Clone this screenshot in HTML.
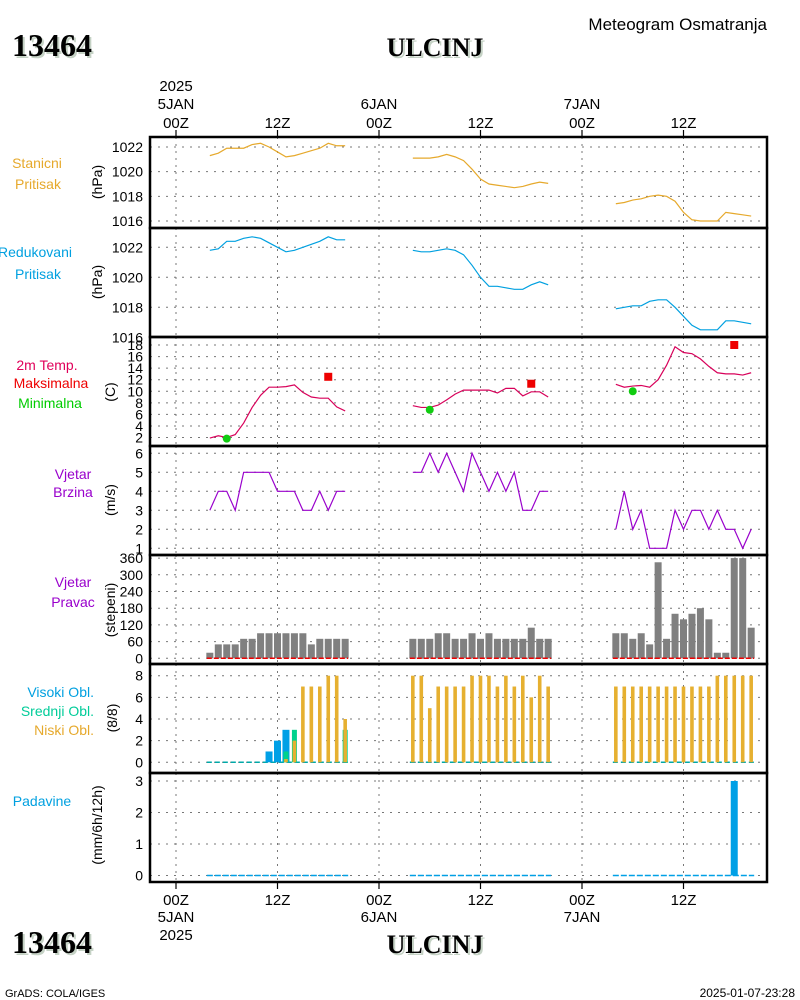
<!DOCTYPE html>
<html><head><meta charset="utf-8"><style>
body{margin:0;background:#fff;}
svg{display:block;font-family:"Liberation Sans",sans-serif;}
</style></head><body>
<svg id="chart" width="800" height="1000" viewBox="0 0 800 1000" xmlns="http://www.w3.org/2000/svg">
<g font-family="Liberation Serif" font-weight="bold">
<text x="14" y="58" fill="#c5d2c5" font-size="32">13464</text>
<text x="12" y="56" fill="#000" font-size="32">13464</text>
<text x="437" y="58" fill="#c5d2c5" font-size="26" text-anchor="middle">ULCINJ</text>
<text x="435" y="56" fill="#000" font-size="26" text-anchor="middle">ULCINJ</text>
<text x="14" y="955" fill="#c5d2c5" font-size="32">13464</text>
<text x="12" y="953" fill="#000" font-size="32">13464</text>
<text x="437" y="955" fill="#c5d2c5" font-size="26" text-anchor="middle">ULCINJ</text>
<text x="435" y="953" fill="#000" font-size="26" text-anchor="middle">ULCINJ</text>
</g>
<text x="767" y="30" font-size="17" text-anchor="end">Meteogram Osmatranja</text>
<text x="5" y="997" font-size="11">GrADS: COLA/IGES</text>
<text x="795" y="997" font-size="12" text-anchor="end">2025-01-07-23:28</text>
<g id="plots"></g>
</svg>
<script>
const hours = [4,5,6,7,8,9,10,11,12,13,14,15,16,17,18,19,20,
28,29,30,31,32,33,34,35,36,37,38,39,40,41,42,43,44,
52,53,54,55,56,57,58,59,60,61,62,63,64,65,66,67,68];
const stnPressure = [1021.3,1021.5,1021.9,1021.9,1021.9,1022.2,1022.3,1022.0,1021.6,1021.2,1021.3,1021.5,1021.7,1021.9,1022.3,1022.1,1022.1,
1021.1,1021.1,1021.1,1021.2,1021.4,1021.2,1020.9,1020.2,1019.4,1019.0,1018.9,1018.8,1018.7,1018.8,1019.0,1019.15,1019.05,
1017.4,1017.5,1017.7,1017.8,1018.0,1018.1,1018.0,1017.6,1016.7,1016.1,1016.0,1016.0,1016.0,1016.7,1016.6,1016.5,1016.4];
const redPressure = [1021.8,1021.9,1022.4,1022.4,1022.6,1022.7,1022.6,1022.3,1022.0,1021.7,1021.8,1022.0,1022.2,1022.4,1022.7,1022.5,1022.5,
1021.8,1021.7,1021.7,1021.8,1021.9,1021.8,1021.5,1020.8,1020.0,1019.4,1019.4,1019.3,1019.2,1019.2,1019.5,1019.7,1019.5,
1017.9,1018.0,1018.1,1018.1,1018.4,1018.5,1018.5,1018.0,1017.4,1016.8,1016.5,1016.5,1016.5,1017.1,1017.1,1017.0,1016.9];
const temperature = [1.9,2.3,2.0,2.5,4.5,7.2,9.3,10.7,10.7,10.8,11.1,9.8,9.0,8.8,8.8,7.3,6.6,
7.5,7.2,7.2,7.6,8.5,9.5,10.2,10.2,10.2,10.2,9.7,10.5,10.5,9.2,9.9,9.9,9.0,
11.2,10.7,10.9,11.0,10.7,12.0,14.5,17.7,16.7,16.5,15.6,14.3,13.2,13.0,13.0,12.8,13.2];
const maxHours = [18,42,66];
const maxTemps = [12.5,11.3,18.0];
const minHours = [6,30,54];
const minTemps = [1.8,6.8,10.0];
const windSpeed = [3,4,4,3,5,5,5,5,4,4,4,3,3,4,3,4,4,
5,5,6,5,6,5,4,6,5,4,5,4,5,3,3,4,4,
2,4,2,3,1,1,1,3,2,3,3,2,3,2,2,1,2];
const windDir = [20,50,50,50,70,70,90,90,90,90,90,90,50,70,70,70,70,
70,70,70,90,90,70,70,90,70,90,70,70,70,70,110,70,70,
90,90,70,90,50,345,70,160,140,160,180,140,20,20,360,360,110];
const highCloud = [0,0,0,0,0,0,0,1,2,3,0,0,0,0,0,0,0,
0,0,0,0,0,0,0,0,0,0,0,0,0,0,0,0,0,
0,0,0,0,0,0,0,0,0,0,0,0,0,0,0,0,0];
const midCloud = [0,0,0,0,0,0,0,0,0,1,3,0,0,0,0,0,3,
0,0,0,0,0,0,0,0,0,0,0,0,0,0,0,0,0,
0,0,0,0,0,0,0,0,0,0,0,0,0,0,0,0,0];
const lowCloud = [0,0,0,0,0,0,0,0,0,0.3,2,7,7,7,8,8,4,
8,8,5,7,7,7,7,8,8,8,7,8,7,8,6,8,7,
7,7,7,7,7,7,7,7,7,7,7,7,8,8,8,8,8];
const precip = [0,0,0,0,0,0,0,0,0,0,0,0,0,0,0,0,0,
0,0,0,0,0,0,0,0,0,0,0,0,0,0,0,0,0,
0,0,0,0,0,0,0,0,0,0,0,0,0,0,3.0,0,0];
const timeTicks = [0,12,24,36,48,60];
const timeTickLabels = ["00Z","12Z","00Z","12Z","00Z","12Z"];
const dateLabels = ["5JAN","","6JAN","","7JAN",""];
const pressTicks = [1016,1018,1020,1022];
const tempTicks = [2,4,6,8,10,12,14,16,18];
const windTicks = [1,2,3,4,5,6];
const dirTicks = [0,60,120,180,240,300,360];
const cloudTicks = [0,2,4,6,8];
const precipTicks = [0,1,2,3];

const NS="http://www.w3.org/2000/svg";
const root=document.getElementById('plots');
const X0=150,X1=767;
function xs(h){return 176+h*(101.5/12);}
function mk(tag,attrs,parent){const e=document.createElementNS(NS,tag);for(const k in attrs)e.setAttribute(k,attrs[k]);(parent||root).appendChild(e);return e;}
function lin(v0,y0,v1,y1){return v=>y0+(v-v0)*(y1-y0)/(v1-v0);}
function segments(vals){const segs=[];let cur=[];for(let i=0;i<hours.length;i++){if(i>0&&hours[i]-hours[i-1]>1){segs.push(cur);cur=[];}if(vals[i]!==null)cur.push(i);}segs.push(cur);return segs;}

const panels=[
 {top:137,bot:228,ys:lin(1016,221,1022,147),ticks:pressTicks,label:[["Stanicni",37,168,"#e6a92c"],["Pritisak",38,189,"#e6a92c"]],unit:"(hPa)",ux:97,uy:182,name:"station-pressure"},
 {top:228,bot:337,ys:lin(1016,337.3,1022,247.3),ticks:pressTicks,label:[["Redukovani",35,257,"#00a0e0"],["Pritisak",38,279,"#00a0e0"]],unit:"(hPa)",ux:97,uy:282,name:"reduced-pressure"},
 {top:337,bot:446,ys:lin(2,437.5,18,345),ticks:tempTicks,label:[["2m Temp.",47,370,"#e0005a"],["Maksimalna",51,388,"#ee0000"],["Minimalna",50,408,"#00cc00"]],unit:"(C)",ux:110,uy:392,name:"temperature"},
 {top:446,bot:555,ys:lin(1,548.3,6,453.3),ticks:windTicks,label:[["Vjetar",73,479,"#9900cc"],["Brzina",73,497,"#9900cc"]],unit:"(m/s)",ux:110,uy:500,name:"wind-speed"},
 {top:555,bot:664,ys:lin(0,658.3,360,558.1),ticks:dirTicks,label:[["Vjetar",73,587,"#9900cc"],["Pravac",73,607,"#9900cc"]],unit:"(stepeni)",ux:110,uy:610,name:"wind-direction"},
 {top:664,bot:773,ys:lin(0,762.3,8,675.7),ticks:cloudTicks,label:[["Visoki Obl.",94,697,"#00a0e0",1],["Srednji Obl.",94,716,"#00cc99",1],["Niski Obl.",94,735,"#e6a92c",1]],unit:"(8/8)",ux:112,uy:718,name:"cloud-cover"},
 {top:773,bot:882,ys:lin(0,875.5,3,781),ticks:precipTicks,label:[["Padavine",42,806,"#00a0e0"]],unit:"(mm/6h/12h)",ux:97,uy:825,name:"precipitation"}
];

panels.forEach(p=>{
 const g=mk('g',{});
 
 
 p.g=g;
 timeTicks.forEach(h=>{const l=mk('line',{x1:xs(h),x2:xs(h),y1:p.top,y2:p.bot,stroke:'#777','stroke-dasharray':'2,5','stroke-width':1},g);
  });
 p.ticks.forEach(v=>{const y=p.ys(v);
  const l=mk('line',{x1:X0,x2:X1,y1:y,y2:y,stroke:'#777','stroke-dasharray':'2,6','stroke-width':1},g);
  
  const t=mk('text',{x:143,y:y+5,'font-size':14,'text-anchor':'end'},g);t.textContent=v;
  });
 p.label.forEach(L=>{const t=mk('text',{x:L[1],y:L[2],'font-size':14,fill:L[3],'text-anchor':L[4]?'end':'middle'},g);t.textContent=L[0];
  });
 const u=mk('text',{x:p.ux,y:p.uy,'font-size':14,'text-anchor':'middle',transform:`rotate(-90 ${p.ux} ${p.uy})`,'dominant-baseline':'central'},g);u.textContent=p.unit;
 
});

function drawLine(p,vals,color,name){
 segments(vals).forEach(s=>{const pts=s.map(i=>xs(hours[i])+','+p.ys(vals[i])).join(' ');
  const pl=mk('polyline',{points:pts,fill:'none',stroke:color,'stroke-width':1.2},p.g);
  });
}
drawLine(panels[0],stnPressure,'#e6a92c','station-pressure-line');
drawLine(panels[1],redPressure,'#00a0e0','reduced-pressure-line');
drawLine(panels[2],temperature,'#d8005a','temperature-line');
drawLine(panels[3],windSpeed,'#9900cc','wind-speed-line');
maxHours.forEach((h,i)=>{const r=mk('rect',{x:xs(h)-4,y:panels[2].ys(maxTemps[i])-4,width:8,height:8,fill:'#ee0000'},panels[2].g);
 });
minHours.forEach((h,i)=>{const c=mk('circle',{cx:xs(h),cy:panels[2].ys(minTemps[i]),r:4,fill:'#11cc11'},panels[2].g);
 });

function bars(p,vals,color,w,name){
 hours.forEach((h,i)=>{if(!vals[i])return;const y=p.ys(vals[i]),y0=p.ys(0);
  const r=mk('rect',{x:xs(h)-w/2,y:y,width:w,height:y0-y,fill:color},p.g);
  });
}
function baseline(p,color,name,dash){
 segments(hours).forEach(s=>{const y=p.ys(0);const l=mk('line',{x1:xs(hours[s[0]])-3,x2:xs(hours[s[s.length-1]])+3,y1:y,y2:y,stroke:color,'stroke-width':1.5,'stroke-dasharray':dash},p.g);
  });
}
bars(panels[4],windDir,'#808080',7,'wind-direction-bar');
baseline(panels[4],'#ee0000','direction-zero-line','5,2');
baseline(panels[5],'#00a8a8','cloud-zero-line','5,3');
bars(panels[5],highCloud,'#00a0e6',7,'high-cloud-bar');
bars(panels[5],midCloud,'#00d28c',5,'mid-cloud-bar');
bars(panels[5],lowCloud,'#e6b030',3.6,'low-cloud-bar');
baseline(panels[6],'#00a0e6','precip-zero-line','6,2');
bars(panels[6],precip,'#00a0e6',7,'precipitation-bar');

panels.forEach(p=>{const r=mk('rect',{x:X0,y:p.top,width:X1-X0,height:p.bot-p.top,fill:'none',stroke:'#000','stroke-width':2.5});
 });
timeTicks.forEach((h,i)=>{const x=xs(h);
 const a=mk('line',{x1:x,x2:x,y1:130,y2:137,stroke:'#000','stroke-width':1.2});
 const b=mk('line',{x1:x,x2:x,y1:882,y2:889,stroke:'#000','stroke-width':1.2});
 const t=mk('text',{x:x,y:128,'font-size':15,'text-anchor':'middle'});t.textContent=timeTickLabels[i];
 const t2=mk('text',{x:x,y:905,'font-size':15,'text-anchor':'middle'});t2.textContent=timeTickLabels[i];
 if(dateLabels[i]){
  const d=mk('text',{x:x,y:109,'font-size':15,'text-anchor':'middle'});d.textContent=dateLabels[i];
  const d2=mk('text',{x:x,y:922,'font-size':15,'text-anchor':'middle'});d2.textContent=dateLabels[i];
 }
 if(i===0){
  const y1=mk('text',{x:x,y:91,'font-size':15,'text-anchor':'middle'});y1.textContent='2025';
  const y2=mk('text',{x:x,y:940,'font-size':15,'text-anchor':'middle'});y2.textContent='2025';
 }
});
</script>
</body></html>
